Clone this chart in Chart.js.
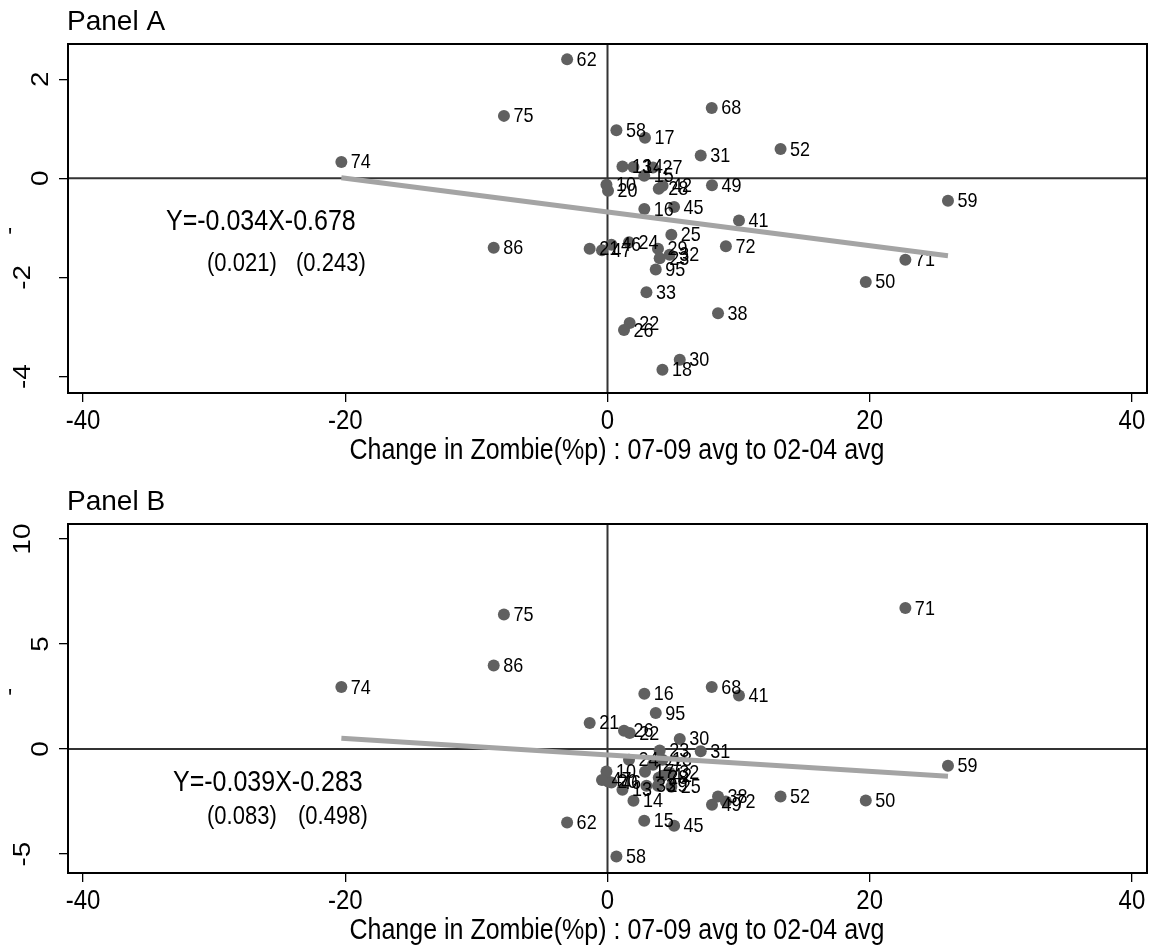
<!DOCTYPE html>
<html>
<head>
<meta charset="utf-8">
<script src="https://cdn.jsdelivr.net/npm/chart.js@4.4.1/dist/chart.umd.min.js"></script>
<style>
  html, body { margin: 0; padding: 0; background: #ffffff; }
  .panel { position: absolute; left: 0; width: 1153px; height: 468px; }
  #wrapA { top: 0; }
  #wrapB { top: 480px; }
</style>
</head>
<body>
<div class="panel" id="wrapA"><canvas id="chartA"></canvas></div>
<div class="panel" id="wrapB"><canvas id="chartB"></canvas></div>
<script>
// Industry codes (point labels)
const industries = ["62","75","74","68","58","17","31","52","13","14","27","15","10","20","42","28","49","59","16","45",
                    "41","25","72","86","21","47","46","24","29","23","32","95","33","38","22","26","30","18","71","50"];

// Change in zombie share (%p), 07-09 avg to 02-04 avg — shared x values
const zombieChange = [-3.08,-7.90,-20.30,7.95,0.68,2.86,7.11,13.20,1.14,1.98,3.47,2.80,-0.08,0.04,4.20,3.91,7.97,25.97,2.81,5.08,
                      10.03,4.87,9.03,-8.68,-1.36,-0.42,0.30,1.64,3.85,3.98,4.74,3.68,2.97,8.43,1.69,1.26,5.51,4.19,22.72,19.70];

// Panel A outcome
const panelAValues = [2.40,1.26,0.33,1.42,0.97,0.82,0.46,0.59,0.24,0.23,0.22,0.05,-0.13,-0.25,-0.15,-0.21,-0.14,-0.45,-0.62,-0.58,
                      -0.85,-1.14,-1.37,-1.40,-1.42,-1.45,-1.34,-1.29,-1.42,-1.61,-1.54,-1.84,-2.30,-2.72,-2.92,-3.06,-3.66,-3.86,-1.64,-2.09];

// Panel B outcome
const panelBValues = [-3.50,6.40,2.95,2.95,-5.11,-1.08,-0.11,-2.26,-1.94,-2.46,-0.75,-3.41,-1.07,-1.55,-1.27,-1.37,-2.65,-0.80,2.63,-3.65,
                      2.55,-1.79,-2.50,3.97,1.24,-1.47,-1.59,-0.51,-1.75,-0.07,-1.13,1.71,-1.75,-2.26,0.76,0.87,0.48,-0.51,6.71,-2.45];

// Fitted lines: [slope, intercept] and their standard errors
const fitA = [-0.034, -0.678];
const seA = ["(0.021)", "(0.243)"];
const fitB = [-0.039, -0.283];
const seB = ["(0.083)", "(0.498)"];

// Tick labels
const xTicks = [-40, -20, 0, 20, 40];
const yTicksA = [-4, -2, 0, 2];
const yTicksB = [-5, 0, 5, 10];

const FONT = '"Liberation Sans", Arial, Helvetica, sans-serif';
const SY = 1.16; // vertical stretch of the lettering

function drawText(ctx, s, x, y, size, align, baseline, sy, rot) {
  ctx.save();
  ctx.font = size + 'px ' + FONT;
  ctx.fillStyle = '#000000';
  ctx.textAlign = align;
  ctx.textBaseline = baseline;
  ctx.translate(x, y);
  ctx.scale(1, sy);
  if (rot) ctx.rotate(rot);
  ctx.fillText(s, 0, 0);
  ctx.restore();
}

const decor = {
  id: 'decor',
  beforeDatasetsDraw(chart) {
    const { ctx, chartArea: a, scales: { x, y } } = chart;
    ctx.save();
    ctx.strokeStyle = '#333333';
    ctx.lineWidth = 2;
    const x0 = x.getPixelForValue(0), y0 = y.getPixelForValue(0);
    ctx.beginPath();
    ctx.moveTo(x0, a.top); ctx.lineTo(x0, a.bottom);
    ctx.moveTo(a.left, y0); ctx.lineTo(a.right, y0);
    ctx.stroke();
    ctx.restore();
  },
  afterDatasetDraw(chart, args, opts) {
    if (args.index !== 1) return;
    const ctx = chart.ctx;
    args.meta.data.forEach((pt, i) => {
      drawText(ctx, industries[i], pt.x + 9.5, pt.y + 1, 18, 'left', 'middle', 1.1);
    });
  },
  afterDraw(chart, args, opts) {
    const { ctx, chartArea: a, scales: { x, y } } = chart;
    ctx.save();
    ctx.strokeStyle = '#000000';
    ctx.lineWidth = 2;
    ctx.strokeRect(a.left, a.top, a.right - a.left, a.bottom - a.top);
    ctx.restore();

    x.ticks.forEach(t => {
      drawText(ctx, String(t.value), x.getPixelForValue(t.value), a.bottom + 28, 24, 'center', 'middle', SY);
    });
    y.ticks.forEach(t => {
      const s = String(t.value);
      const cx = s.length > 1 ? 23 : 41;
      drawText(ctx, s, cx, y.getPixelForValue(t.value), 24, 'center', 'middle', SY, -Math.PI / 2);
    });

    drawText(ctx, opts.title, 67, 29.5, 28, 'left', 'alphabetic', 1);
    drawText(ctx, 'Change in Zombie(%p) : 07-09 avg to 02-04 avg', 617, a.bottom + 58, 25, 'center', 'middle', SY);
    drawText(ctx, "'", 10, opts.markY, 22, 'center', 'alphabetic', SY);

    const f = opts.fit;
    const eq = 'Y=' + f[0].toFixed(3) + 'X' + (f[1] < 0 ? '-' : '+') + Math.abs(f[1]).toFixed(3);
    drawText(ctx, eq, opts.eqX, opts.eqY, 25, 'left', 'alphabetic', SY);
    drawText(ctx, opts.se[0], opts.seX[0], opts.seY, 22, 'left', 'alphabetic', SY);
    drawText(ctx, opts.se[1], opts.seX[1], opts.seY, 22, 'left', 'alphabetic', SY);
  }
};

function makeChart(id, values, fit, se, yTicks, yMin, yMax, extra) {
  const pts = zombieChange.map((v, i) => ({ x: v, y: values[i] }));
  const xLo = Math.min(...zombieChange), xHi = Math.max(...zombieChange);
  const line = [{ x: xLo, y: fit[0] * xLo + fit[1] }, { x: xHi, y: fit[0] * xHi + fit[1] }];
  const tickGrid = { display: true, drawOnChartArea: false, drawTicks: true, tickLength: 9, color: '#000000', lineWidth: 1.3 };
  return new Chart(document.getElementById(id), {
    type: 'scatter',
    data: {
      datasets: [
        { type: 'line', data: line, borderColor: '#a4a4a4', borderWidth: 5, pointRadius: 0, fill: false, tension: 0 },
        { data: pts, backgroundColor: '#606060', borderWidth: 0, pointRadius: 6, pointHoverRadius: 6 }
      ]
    },
    options: {
      responsive: true,
      maintainAspectRatio: false,
      animation: false,
      events: [],
      layout: { padding: { top: 44, right: 6, left: 0, bottom: 0 } },
      plugins: {
        legend: { display: false },
        tooltip: { enabled: false },
        decor: Object.assign({ fit: fit, se: se }, extra)
      },
      scales: {
        x: {
          type: 'linear', min: -41.15, max: 41.15,
          afterBuildTicks: s => { s.ticks = xTicks.map(v => ({ value: v })); },
          afterFit: s => { s.height = 75; },
          ticks: { display: false },
          grid: tickGrid,
          border: { display: false }
        },
        y: {
          type: 'linear', min: yMin, max: yMax,
          afterBuildTicks: s => { s.ticks = yTicks.map(v => ({ value: v })); },
          afterFit: s => { s.width = 68; },
          ticks: { display: false },
          grid: tickGrid,
          border: { display: false }
        }
      }
    },
    plugins: [decor]
  });
}

makeChart('chartA', panelAValues, fitA, seA, yTicksA, -4.33, 2.71,
  { title: 'Panel A', markY: 246, eqX: 166, eqY: 230, seX: [207, 296], seY: 271 });
makeChart('chartB', panelBValues, fitB, seB, yTicksB, -5.90, 10.71,
  { title: 'Panel B', markY: 227, eqX: 173, eqY: 311, seX: [207, 298], seY: 344 });
</script>
</body>
</html>
